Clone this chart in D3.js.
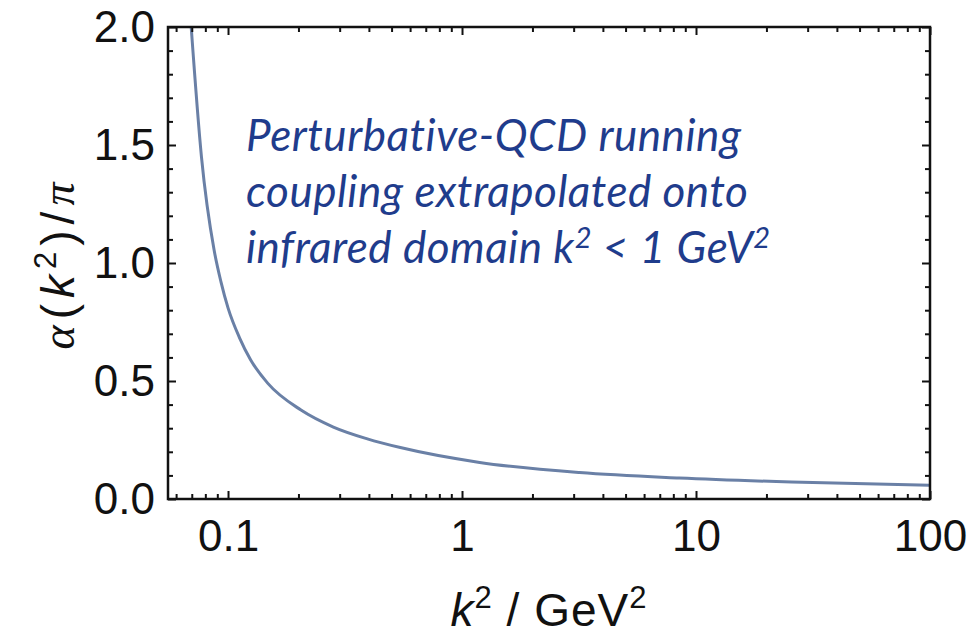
<!DOCTYPE html>
<html>
<head>
<style>
  body { margin: 0; background: #fff; }
  .tick text { font-family: "Liberation Sans", Arial, sans-serif; font-size: 44px; fill: #111; }
  .tick line { stroke: #111; stroke-width: 2px; }
  .domain { display: none; }
  .curve { fill: none; stroke: #6a80a6; stroke-width: 3px; }
  .note { font-family: Lato, "Open Sans", sans-serif; font-style: italic; font-size: 44px; letter-spacing: 0.5px; fill: #1f3c8c; }
</style>
</head>
<body>
<svg width="972" height="637"></svg>
<script src="https://d3js.org/d3.v7.min.js"></script>
<script>
// values
const k2Values = [0.0696, 0.077, 0.0872, 0.0933, 0.1, 0.112, 0.125, 0.148, 0.205, 0.282, 0.394, 0.545, 1.19, 3.18, 8.47, 25.6, 100];
const alphaOverPi = [2.0, 1.45, 1.055, 0.92, 0.81, 0.683, 0.589, 0.49, 0.377, 0.305, 0.255, 0.218, 0.155, 0.112, 0.089, 0.072, 0.058];
const xTickValues = [0.1, 1, 10, 100];
const xTickLabels = ["0.1", "1", "10", "100"];
const yTickValues = [0, 0.5, 1, 1.5, 2];
const yTickLabels = ["0.0", "0.5", "1.0", "1.5", "2.0"];
const noteLines = ["Perturbative-QCD running", "coupling extrapolated onto", "infrared domain "];

const svg = d3.select("svg");
const mLeft = 168, mRight = 930, mTop = 27, mBottom = 499;

const x = d3.scaleLog().domain([0.0554, 100]).range([mLeft, mRight]);
const y = d3.scaleLinear().domain([0, 2]).range([mBottom, mTop]);

const data = k2Values.map((k, i) => ({k: k, a: alphaOverPi[i]}));

// minor ticks
const xMinor = x.ticks().filter(v => !xTickValues.includes(v));
const yMinor = d3.range(0, 2.001, 0.1).filter(v => Math.abs(v * 2 - Math.round(v * 2)) > 1e-6);

// curve (clipped to frame)
svg.append("clipPath").attr("id", "clip")
  .append("rect").attr("x", mLeft).attr("y", mTop).attr("width", mRight - mLeft).attr("height", mBottom - mTop);

const line = d3.line()
  .x(d => x(d.k))
  .y(d => y(d.a))
  .curve(d3.curveMonotoneX);

svg.append("path")
  .datum(data)
  .attr("class", "curve")
  .attr("clip-path", "url(#clip)")
  .attr("d", line);

// axes: major + minor, ticks pointing inward
const fmtX = d => xTickLabels[xTickValues.indexOf(d)];
const fmtY = d => yTickLabels[yTickValues.indexOf(d)];

svg.append("g").attr("transform", `translate(0,${mBottom})`)
  .call(d3.axisBottom(x).tickValues(xTickValues).tickSize(-8).tickPadding(21).tickFormat(fmtX));
svg.append("g").attr("transform", `translate(0,${mBottom})`)
  .call(d3.axisBottom(x).tickValues(xMinor).tickSize(-5).tickFormat(""));
svg.append("g").attr("transform", `translate(0,${mTop})`)
  .call(d3.axisTop(x).tickValues(xTickValues).tickSize(-8).tickFormat(""));
svg.append("g").attr("transform", `translate(0,${mTop})`)
  .call(d3.axisTop(x).tickValues(xMinor).tickSize(-5).tickFormat(""));

svg.append("g").attr("transform", `translate(${mLeft},0)`)
  .call(d3.axisLeft(y).tickValues(yTickValues).tickSize(-8).tickPadding(13).tickFormat(fmtY));
svg.append("g").attr("transform", `translate(${mLeft},0)`)
  .call(d3.axisLeft(y).tickValues(yMinor).tickSize(-5).tickFormat(""));
svg.append("g").attr("transform", `translate(${mRight},0)`)
  .call(d3.axisRight(y).tickValues(yTickValues).tickSize(-8).tickFormat(""));
svg.append("g").attr("transform", `translate(${mRight},0)`)
  .call(d3.axisRight(y).tickValues(yMinor).tickSize(-5).tickFormat(""));

// frame
svg.append("rect")
  .attr("x", mLeft).attr("y", mTop)
  .attr("width", mRight - mLeft).attr("height", mBottom - mTop)
  .attr("fill", "none").attr("stroke", "#111").attr("stroke-width", 2.5);

// axis titles
const xt = svg.append("text")
  .attr("x", (mLeft + mRight) / 2).attr("y", 626)
  .attr("text-anchor", "middle")
  .style("font-family", "Liberation Sans, Arial, sans-serif")
  .style("font-size", "46px").style("letter-spacing", "1px").style("fill", "#111");
xt.append("tspan").style("font-style", "italic").text("k");
xt.append("tspan").attr("dy", -18).style("font-size", "31px").text("2");
xt.append("tspan").attr("dy", 18).text(" / GeV");
xt.append("tspan").attr("dy", -18).style("font-size", "31px").text("2");

const yt = svg.append("text")
  .attr("transform", `translate(74,${(mTop + mBottom) / 2}) rotate(-90)`)
  .attr("text-anchor", "middle")
  .style("font-family", "Liberation Sans, Arial, sans-serif")
  .style("font-size", "46px").style("letter-spacing", "6px").style("fill", "#111");
yt.append("tspan").style("font-family", "Liberation Serif, serif").style("font-style", "italic").text("α");
yt.append("tspan").text("(");
yt.append("tspan").style("font-style", "italic").text("k");
yt.append("tspan").attr("dy", -18).style("font-size", "31px").text("2");
yt.append("tspan").attr("dy", 18).text(")/");
yt.append("tspan").style("font-family", "Liberation Serif, serif").style("font-style", "italic").text("π");

// annotation
const note = svg.append("g");
noteLines.forEach((t, i) => {
  const tx = note.append("text").attr("class", "note")
    .attr("x", 246).attr("y", 151 + i * 56).text(t);
  if (i === 2) {
    tx.append("tspan").text("k");
    tx.append("tspan").attr("dy", -15).style("font-size", "29px").text("2");
    tx.append("tspan").attr("dy", 15).text(" < 1 GeV");
    tx.append("tspan").attr("dy", -15).style("font-size", "29px").text("2");
  }
});
</script>
</body>
</html>
